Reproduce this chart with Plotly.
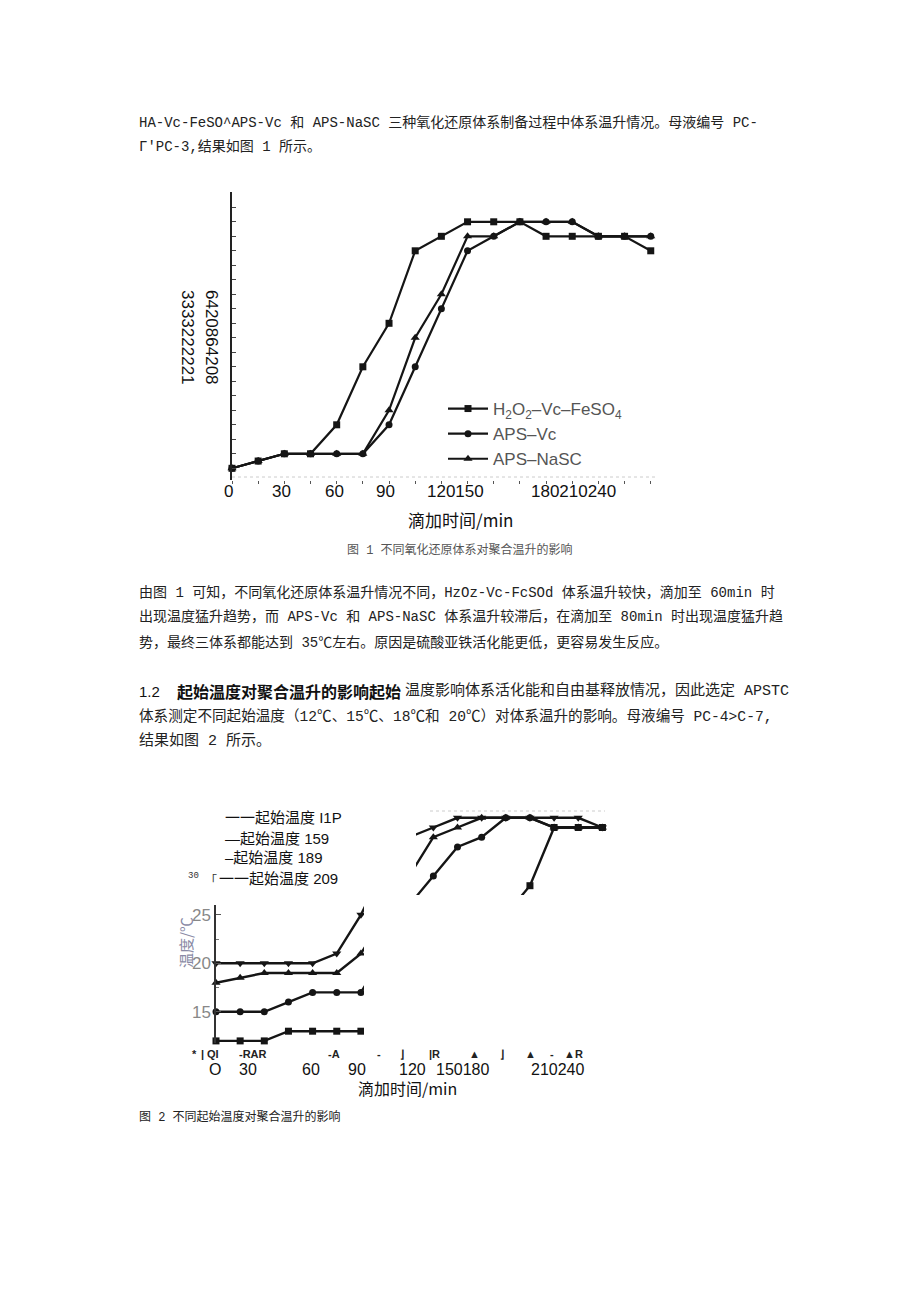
import plotly.graph_objects as go

W, H = 920, 1301

# ---------------- Figure 1 data ----------------
T1 = [0, 15, 30, 45, 60, 75, 90, 105, 120, 135, 150, 165, 180, 195, 210, 225, 240]
H2O2_VC_FESO4 = [18, 18.5, 19, 19, 21, 25, 28, 33, 34, 35, 35, 35, 34, 34, 34, 34, 33]
APS_VC = [18, 18.5, 19, 19, 19, 19, 21, 25, 29, 33, 34, 35, 35, 35, 34, 34, 34]
APS_NASC = [18, 18.5, 19, 19, 19, 19, 22, 27, 30, 34, 34, 35, 35, 35, 34, 34, 34]
FIG1_NAMES = ["H<sub>2</sub>O<sub>2</sub>–Vc–FeSO<sub>4</sub>", "APS–Vc", "APS–NaSC"]
FIG1_YLABEL_TENS = "3333222221"
FIG1_YLABEL_UNITS = "6420864208"
FIG1_XTICK_TEXT = ["0", "30", "60", "90", "120150", "180210240"]

# ---------------- Figure 2 data ----------------
T2 = [0, 15, 30, 45, 60, 75, 90, 105, 120, 135, 150, 165, 180, 195, 210, 225, 240]
START_12 = [12, 12, 12, 13, 13, 13, 13, 14, 16, 19, 21, 23, 25, 28, 34, 34, 34]
START_15 = [15, 15, 15, 16, 17, 17, 17, 21, 26, 29, 32, 33, 35, 35, 34, 34, 34]
START_18 = [18, 18.5, 19, 19, 19, 19, 21, 25, 29, 33, 34, 35, 35, 35, 34, 34, 34]
START_20 = [20, 20, 20, 20, 20, 21, 25, 30, 33, 34, 35, 35, 35, 35, 35, 35, 34]
FIG2_YTICKS = [15, 20, 25]
FIG2_XTICK_TEXT = ["O", "30", "60", "90", "120", "150180", "210240"]
FIG2_NOISE_TEXT = ["*", "|", "QI", "-RAR", "-A", "-", "⌋", "|R", "▲", "⌋", "▲", "-", "▲R"]
FIG2_LEGEND_TEXT = ["一一起始温度 I1P", "—起始温度 159", "–起始温度 189", "一一起始温度 209"]

# ---------------- page text ----------------
BODY_LINES = [
    "HA-Vc-FeSO^APS-Vc 和 APS-NaSC 三种氧化还原体系制备过程中体系温升情况。母液编号 PC-",
    "Γ'PC-3,结果如图 1 所示。",
]
PARA2_LINES = [
    "由图 1 可知，不同氧化还原体系温升情况不同，HzOz-Vc-FcSOd 体系温升较快，滴加至 60min 时",
    "出现温度猛升趋势，而 APS-Vc 和 APS-NaSC 体系温升较滞后，在滴加至 80min 时出现温度猛升趋",
    "势，最终三体系都能达到 35℃左右。原因是硫酸亚铁活化能更低，更容易发生反应。",
]
HEAD_NUM = "1.2"
HEAD_BOLD = "起始温度对聚合温升的影响起始"
HEAD_REST = "温度影响体系活化能和自由基释放情况，因此选定 APSTC"
PARA3_LINES = [
    "体系测定不同起始温度（12℃、15℃、18℃和 20℃）对体系温升的影响。母液编号 PC-4>C-7,",
    "结果如图 2 所示。",
]
CAPTION1 = "图 1 不同氧化还原体系对聚合温升的影响"
CAPTION2 = "图 2 不同起始温度对聚合温升的影响"
XTITLE = "滴加时间/min"
YTITLE2 = "温度/℃"

BODY_FONT = "Liberation Mono, Noto Sans CJK SC"
SANS = "Liberation Sans, Arial, Noto Sans CJK SC"
CJK = "Noto Sans CJK SC"


def X(px):
    return px / W


def Y(py):
    return 1 - py / H


annotations = []


def ann(text, x, y, size=14, family=BODY_FONT, color="#222", xanchor="left",
        yanchor="middle", angle=0):
    annotations.append(dict(text=text, x=X(x), y=Y(y), xref="paper", yref="paper",
                            showarrow=False, xanchor=xanchor, yanchor=yanchor,
                            textangle=angle, font=dict(size=size, family=family, color=color)))


fig = go.Figure()

# ---------------- Figure 1 traces ----------------
LINE = "#151515"
fig1_series = [(H2O2_VC_FESO4, "square", 7), (APS_VC, "circle", 7), (APS_NASC, "triangle-up", 8)]
for i, (vals, sym, ms) in enumerate(fig1_series):
    fig.add_trace(go.Scatter(
        x=T1, y=vals, mode="lines+markers", name=FIG1_NAMES[i],
        line=dict(color=LINE, width=2.2), marker=dict(symbol=sym, size=ms, color=LINE),
        xaxis="x", yaxis="y", cliponaxis=False))

# ---------------- Figure 2 traces ----------------
fig2_series = [(START_12, "square", 7), (START_15, "circle", 7),
               (START_18, "triangle-up", 8), (START_20, "triangle-down", 8)]
for vals, sym, ms in fig2_series:
    fig.add_trace(go.Scatter(
        x=T2, y=vals, mode="lines+markers", showlegend=False,
        line=dict(color=LINE, width=2.4), marker=dict(symbol=sym, size=ms, color=LINE),
        xaxis="x2", yaxis="y2", cliponaxis=False))

# ---------------- axes ----------------
fig.update_layout(
    xaxis=dict(domain=[X(232), X(660)], range=[0, 245.3], showline=False, showgrid=False,
               zeroline=False, ticks="outside", ticklen=3, tickcolor="#555", dtick=15, tick0=0,
               showticklabels=False, anchor="y"),
    yaxis=dict(domain=[Y(480), Y(192)], range=[18 - (480 - 468.3) / 14.5, 18 + (468.3 - 192) / 14.5],
               showline=True, linecolor="#222", linewidth=1.5, showgrid=False, zeroline=False,
               ticks="inside", ticklen=4, tickcolor="#444", dtick=1, tick0=0,
               showticklabels=False, anchor="x"),
    xaxis2=dict(domain=[X(216), X(612)], range=[0, (612 - 216) / 1.61], visible=False, anchor="y2"),
    yaxis2=dict(domain=[Y(1043), Y(805)], range=[20 - (1043 - 963.3) / 9.7, 20 + (963.3 - 805) / 9.7],
                showline=True, linecolor="#333", linewidth=1.5, showgrid=False, zeroline=False,
                ticks="inside", ticklen=5, tickcolor="#555", tickvals=FIG2_YTICKS,
                minor=dict(tickvals=[17.5, 22.5], ticks="inside", ticklen=3, tickcolor="#777"),
                tickfont=dict(size=17, family=SANS, color="#888"), anchor="x2"),
)

# ---------------- shapes ----------------
shapes = [
    dict(type="line", xref="paper", yref="paper", x0=X(232), x1=X(655), y0=Y(477), y1=Y(477),
         line=dict(color="#ccc", width=1, dash="dot"), layer="below"),
    dict(type="line", xref="paper", yref="paper", x0=X(430), x1=X(605), y0=Y(811), y1=Y(811),
         line=dict(color="#ccc", width=1, dash="dot"), layer="below"),
    # masks of the broken scan of fig 2
    dict(type="rect", xref="paper", yref="paper", x0=0, x1=X(416), y0=Y(905), y1=Y(795),
         fillcolor="white", line=dict(width=0), layer="above"),
    dict(type="rect", xref="paper", yref="paper", x0=X(364), x1=1, y0=Y(1048), y1=Y(895),
         fillcolor="white", line=dict(width=0), layer="above"),
]

# ---------------- text ----------------
ann(BODY_LINES[0], 137, 123)
ann(BODY_LINES[1], 137, 147)

ann(FIG1_YLABEL_UNITS, 212, 337, size=17, family=SANS, color="#111", xanchor="center", angle=90)
ann(FIG1_YLABEL_TENS, 188, 337, size=17, family=SANS, color="#111", xanchor="center", angle=90)
for txt, px in zip(FIG1_XTICK_TEXT, [228, 281, 334, 385, 455, 573]):
    ann(txt, px, 492, size=17, family=SANS, color="#111", xanchor="center")
ann(XTITLE, 460, 519, size=17, family=CJK, color="#111", xanchor="center")
ann(CAPTION1, 460, 550, size=12, family=BODY_FONT, color="#555", xanchor="center")

for i, line in enumerate(PARA2_LINES):
    ann(line, 137, 592 + 25 * i)

ann(HEAD_NUM, 137, 691, size=15, family=SANS, color="#111")
ann("<b>" + HEAD_BOLD + "</b>", 175, 691, size=16, family=CJK, color="#111")
ann(HEAD_REST, 403, 691, size=15)
ann(PARA3_LINES[0], 137, 716, size=14.6)
ann(PARA3_LINES[1], 137, 741, size=15)

# fig 2 text
for txt, py in zip(FIG2_LEGEND_TEXT, [817, 838, 857, 878]):
    ann(txt, 223 if py != 878 else 217, py, size=15, family=SANS, color="#111")
ann("30", 186, 876, size=9, family=BODY_FONT, color="#333")
ann("「", 203, 879, size=12, family=CJK, color="#333")
ann(YTITLE2, 185, 943, size=15, family=CJK, color="#8a8aa5", xanchor="center", angle=-90)
for txt, px in zip(FIG2_NOISE_TEXT, [194, 202, 213, 253, 334, 379, 402, 434, 475, 502, 530, 552, 573]):
    ann("<b>" + txt + "</b>", px, 1054, size=11, family=SANS, color="#222", xanchor="center")
for txt, px in zip(FIG2_XTICK_TEXT, [215, 248, 311, 357, 412, 462, 557]):
    ann(txt, px, 1069, size=16, family=SANS, color="#111", xanchor="center")
ann(XTITLE, 407, 1088, size=16, family=CJK, color="#111", xanchor="center")
ann(CAPTION2, 137, 1117, size=12, family=BODY_FONT, color="#222")

fig.update_layout(
    width=W, height=H, margin=dict(l=0, r=0, t=0, b=0, pad=0),
    paper_bgcolor="white", plot_bgcolor="white",
    showlegend=True,
    legend=dict(x=X(443), y=Y(391), xanchor="left", yanchor="top", bgcolor="rgba(0,0,0,0)",
                font=dict(size=17, family=SANS, color="#555"), itemwidth=40),
    annotations=annotations, shapes=shapes,
)

fig.write_html("out.html")
